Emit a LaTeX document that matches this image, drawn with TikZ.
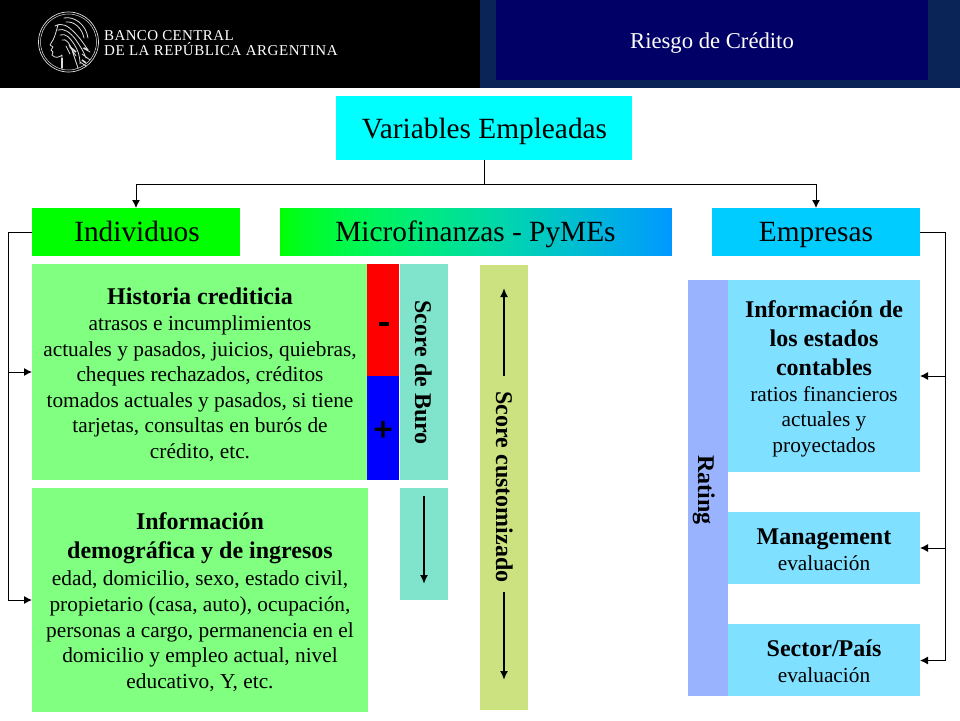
\documentclass[tikz,border=0pt]{standalone}
\usepackage{fontspec}
\setmainfont{Liberation Serif}
\newfontfamily\logofonta[LetterSpace=2.5]{Liberation Serif}
\newfontfamily\logofontb[LetterSpace=3.6]{Liberation Serif}
\newfontfamily\signfont[FakeBold=2.5]{Liberation Serif Bold}
\usetikzlibrary{arrows.meta}
\definecolor{hdrnavy}{HTML}{0A2458}
\definecolor{hdrblue}{HTML}{000066}
\definecolor{lgreen}{HTML}{80FF80}
\definecolor{lcyan}{HTML}{80E0FF}
\definecolor{teal1}{HTML}{80E4CC}
\definecolor{olive1}{HTML}{CCE280}
\definecolor{peri}{HTML}{99B3FF}
\definecolor{skyb}{HTML}{00CCFF}
\definecolor{purecyan}{HTML}{00FFFF}
\definecolor{puregreen}{HTML}{00FF00}
\definecolor{logow}{HTML}{DDDDDD}
\tikzset{
  x=1pt,y=-1pt,
  head/.style={anchor=base,inner sep=0pt,font=\fontsize{29.33}{32}\selectfont,text=black},
  conn/.style={line width=1pt,black},
  arr/.style={line width=1pt,black,-{Latex[length=8pt,width=8pt]}},
  thick arr/.style={line width=2pt,black,-{Latex[length=9pt,width=8pt]}},
  txt/.style={align=center,inner sep=0pt,font=\fontsize{21.33}{25.6}\selectfont},
  vert/.style={rotate=-90,anchor=base,inner sep=0pt,font=\fontsize{24}{28}\selectfont\bfseries},
  sign/.style={anchor=base,inner sep=0pt,font=\signfont\fontsize{34}{36}\selectfont},
  strand/.style={logow,line width=.8pt,line join=round,line cap=round},
}
\newcommand{\bt}[1]{{\fontsize{24}{25.6}\selectfont\bfseries #1}}
\begin{document}
\begin{tikzpicture}
\useasboundingbox (0,0) rectangle (960,720);
\fill[white] (0,0) rectangle (960,720);
% header
\fill[black] (0,0) rectangle (480,88);
\fill[hdrnavy] (480,0) rectangle (960,88);
\fill[hdrblue] (496,0) rectangle (928,80);
\node[anchor=base,text=white,inner sep=0pt,font=\fontsize{22.67}{25}\selectfont] (tit) at (712,48) {Riesgo de Crédito};
% logo
\draw[logow,line width=.7pt] (68.5,42) circle (30);
\draw[logow,line width=.5pt] (68.5,42) circle (28);
\draw[strand]
  (64,18) .. controls (74,16) and (86,24) .. (88,38)
  (66,22) .. controls (74,21) and (82,28) .. (84,38)
  (58,25) .. controls (56,32) and (55,36) .. (53,40) -- (50,45) -- (53,47) -- (51,50) -- (53,52) -- (52,55) .. controls (55,59) and (60,57) .. (62,55) -- (62,70)
  (55,26) .. controls (62,22) and (68,26) .. (74,32) .. controls (80,38) and (84,44) .. (88,50)
  (58,30) .. controls (64,28) and (70,32) .. (76,40) .. controls (80,46) and (84,52) .. (86,58)
  (60,35) .. controls (66,33) and (70,38) .. (74,44) .. controls (78,50) and (80,56) .. (80,64)
  (62,40) .. controls (66,38) and (70,44) .. (72,50) .. controls (74,56) and (76,62) .. (78,68)
  (66,46) -- (70,54) (69,45) -- (76,56) (83,48) -- (90,52) (82,54) -- (90,60) (80,62) -- (86,66);
\draw[logow,line width=1.6pt] (70,47) -- (76,52) (62,58) -- (62,68) (82,60) -- (86,63) (84,48) -- (88,50);
\node[anchor=base west,inner sep=0pt,text=white,font=\logofonta\fontsize{15}{16}\selectfont] (l1) at (104,40) {BANCO CENTRAL};
\node[anchor=base west,inner sep=0pt,text=white,font=\logofontb\fontsize{15}{16}\selectfont] (l2) at (104,55) {DE LA REPÚBLICA ARGENTINA};
% top
\fill[purecyan] (336,96) rectangle (632,160);
\node[head] (var) at (484.5,138) {Variables Empleadas};
\coordinate (varb) at (484.5,160);
\coordinate (bus) at (484.5,184);
% level 2
\fill[puregreen] (32,208) rectangle (240,256);
\node[head] (ind) at (137,241) {Individuos};
% gradient band, painted left to right as overlapping strips
\foreach \i in {0,...,195}{
  \pgfmathsetmacro{\tv}{max(\i/195,0.001)}
  \pgfmathsetmacro{\gv}{1-0.4*pow(\tv,1.6)}
  \pgfmathsetmacro{\bv}{pow(\tv,0.7)}
  \definecolor{stripc}{rgb}{0,\gv,\bv}
  \pgfmathsetmacro{\xa}{280+2*\i}
  \pgfmathsetmacro{\xb}{min(672,\xa+3)}
  \fill[stripc] (\xa,208) rectangle (\xb,256);
}
\node[head] (mic) at (475.5,241) {Microfinanzas - PyMEs};
\fill[skyb] (712,208) rectangle (920,256);
\node[head] (emp) at (816,241) {Empresas};
\coordinate (indtop) at (136,208);
\coordinate (emptop) at (816,208);
\draw[conn] (varb) -- (bus);
\draw[arr] (bus) -| (indtop);
\draw[arr] (bus) -| (emptop);
% left boxes
\fill[lgreen] (32,264) rectangle (368,480);
\node[txt] (hist) at (200,375) {\bt{Historia crediticia}\\atrasos e incumplimientos\\actuales y pasados, juicios, quiebras,\\cheques rechazados, créditos\\tomados actuales y pasados, si tiene\\tarjetas, consultas en burós de\\crédito, etc.};
\fill[lgreen] (32,488) rectangle (368,712);
\node[txt] (demo) at (200,602) {\bt{Información}\\[3.4pt]\bt{demográfica y de ingresos}\\[2pt]edad, domicilio, sexo, estado civil,\\propietario (casa, auto), ocupación,\\personas a cargo, permanencia en el\\domicilio y empleo actual, nivel\\educativo, Y, etc.};
% score
\fill[red] (367,264) rectangle (399,376);
\fill[blue] (367,376) rectangle (399,480);
\node[sign] (minus) at (384,332) {-};
\node[sign] (plus) at (383,440.5) {+};
\fill[teal1] (400,264) rectangle (448,480);
\node[vert] (buro) at (415,372.5) {Score de Buro};
\fill[teal1] (400,488) rectangle (448,600);
\coordinate (a1) at (424,496);
\coordinate (a2) at (424,584);
\draw[thick arr] (a1) -- (a2);
% custom
\fill[olive1] (480,265) rectangle (528,710);
\node[vert] (cust) at (496,487) {Score customizado};
\coordinate (c1) at (504,376);
\coordinate (c2) at (504,288);
\coordinate (c3) at (504,592);
\coordinate (c4) at (504,680);
\draw[thick arr] (c1) -- (c2);
\draw[thick arr] (c3) -- (c4);
% right
\fill[peri] (688,280) rectangle (728,696);
\node[vert] (rat) at (698,490) {Rating};
\fill[lcyan] (728,280) rectangle (920,472);
\node[txt] (info) at (824,378.5) {\bt{Información de}\\[3.6pt]\bt{los estados}\\[3.6pt]\bt{contables}\\ratios financieros\\actuales y\\proyectados};
\fill[lcyan] (728,512) rectangle (920,584);
\node[txt] (mgmt) at (824,549.5) {\bt{Management}\\evaluación};
\fill[lcyan] (728,624) rectangle (920,696);
\node[txt] (sec) at (824,661.5) {\bt{Sector/País}\\evaluación};
% side connectors
\coordinate (ls) at (8,232);
\coordinate (lm) at (8,372);
\coordinate (lb) at (8,600);
\draw[conn] (32,232) -- (ls) -- (lb);
\draw[arr] (lm) -- (32,372);
\draw[arr] (lb) -- (32,600);
\coordinate (rs) at (945,232);
\coordinate (rm) at (945,376);
\coordinate (rn) at (945,548);
\coordinate (rb) at (945,660.5);
\draw[conn] (920,232) -- (rs) -- (rb);
\draw[arr] (rm) -- (920,376);
\draw[arr] (rn) -- (920,548);
\draw[arr] (rb) -- (920,660.5);
\end{tikzpicture}
\end{document}
